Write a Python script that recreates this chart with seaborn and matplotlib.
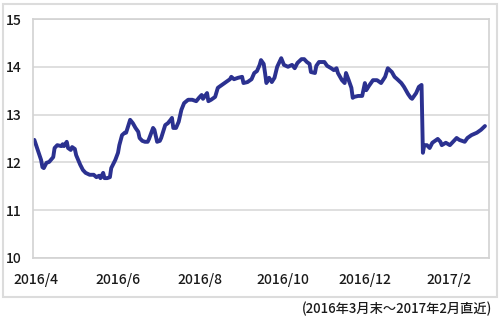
import matplotlib
matplotlib.use("Agg")
import matplotlib.pyplot as plt
from matplotlib.patches import Rectangle
import pandas as pd
import seaborn as sns

dates = [
    "2016-03-31", "2016-04-02", "2016-04-05", "2016-04-06", "2016-04-07", "2016-04-09",
    "2016-04-11", "2016-04-14", "2016-04-15", "2016-04-17", "2016-04-20", "2016-04-21",
    "2016-04-22", "2016-04-24", "2016-04-25", "2016-04-27", "2016-04-28", "2016-04-30",
    "2016-05-01", "2016-05-04", "2016-05-06", "2016-05-08", "2016-05-11", "2016-05-14",
    "2016-05-16", "2016-05-18", "2016-05-19", "2016-05-21", "2016-05-22", "2016-05-24",
    "2016-05-26", "2016-05-27", "2016-05-30", "2016-06-01", "2016-06-02", "2016-06-04",
    "2016-06-06", "2016-06-07", "2016-06-10", "2016-06-12", "2016-06-14", "2016-06-16",
    "2016-06-17", "2016-06-19", "2016-06-21", "2016-06-23", "2016-06-24", "2016-06-27",
    "2016-06-28", "2016-06-30", "2016-07-02", "2016-07-03", "2016-07-06", "2016-07-08",
    "2016-07-10", "2016-07-11", "2016-07-12", "2016-07-14", "2016-07-16", "2016-07-18",
    "2016-07-20", "2016-07-23", "2016-07-26", "2016-07-29", "2016-07-31", "2016-08-02",
    "2016-08-03", "2016-08-06", "2016-08-07", "2016-08-09", "2016-08-12", "2016-08-14",
    "2016-08-17", "2016-08-20", "2016-08-23", "2016-08-24", "2016-08-26", "2016-08-29",
    "2016-09-01", "2016-09-02", "2016-09-05", "2016-09-08", "2016-09-10", "2016-09-12",
    "2016-09-14", "2016-09-15", "2016-09-17", "2016-09-18", "2016-09-19", "2016-09-21",
    "2016-09-23", "2016-09-25", "2016-09-27", "2016-09-30", "2016-10-02", "2016-10-05",
    "2016-10-08", "2016-10-10", "2016-10-12", "2016-10-15", "2016-10-17", "2016-10-19",
    "2016-10-21", "2016-10-22", "2016-10-25", "2016-10-26", "2016-10-28", "2016-11-01",
    "2016-11-03", "2016-11-06", "2016-11-08", "2016-11-10", "2016-11-11", "2016-11-14",
    "2016-11-16", "2016-11-17", "2016-11-19", "2016-11-21", "2016-11-22", "2016-11-23",
    "2016-11-26", "2016-11-29", "2016-12-01", "2016-12-02", "2016-12-04", "2016-12-07",
    "2016-12-10", "2016-12-13", "2016-12-16", "2016-12-18", "2016-12-21", "2016-12-23",
    "2016-12-25", "2016-12-28", "2016-12-30", "2017-01-02", "2017-01-04", "2017-01-05",
    "2017-01-08", "2017-01-10", "2017-01-12", "2017-01-13", "2017-01-14", "2017-01-16",
    "2017-01-18", "2017-01-20", "2017-01-22", "2017-01-24", "2017-01-26", "2017-01-27",
    "2017-01-30", "2017-02-02", "2017-02-05", "2017-02-07", "2017-02-09", "2017-02-13",
    "2017-02-15", "2017-02-18", "2017-02-22", "2017-02-25", "2017-02-28",
]
values = [
    12.47, 12.30, 12.05, 11.90, 11.88, 11.99,
    12.01, 12.11, 12.30, 12.36, 12.34, 12.38,
    12.34, 12.43, 12.30, 12.26, 12.32, 12.28,
    12.15, 11.95, 11.84, 11.78, 11.74, 11.74,
    11.69, 11.72, 11.67, 11.78, 11.67, 11.67,
    11.69, 11.88, 12.05, 12.20, 12.36, 12.57,
    12.62, 12.62, 12.89, 12.82, 12.72, 12.64,
    12.51, 12.45, 12.43, 12.43, 12.49, 12.72,
    12.68, 12.43, 12.45, 12.51, 12.78, 12.82,
    12.89, 12.93, 12.72, 12.72, 12.85, 13.10,
    13.24, 13.31, 13.31, 13.28, 13.35, 13.41,
    13.33, 13.45, 13.28, 13.31, 13.37, 13.56,
    13.62, 13.68, 13.74, 13.79, 13.74, 13.77,
    13.79, 13.66, 13.68, 13.74, 13.87, 13.91,
    14.04, 14.14, 14.06, 13.87, 13.66, 13.77,
    13.68, 13.77, 14.00, 14.18, 14.04, 14.00,
    14.04, 13.97, 14.08, 14.16, 14.16, 14.10,
    14.06, 13.89, 13.87, 14.02, 14.10, 14.10,
    14.02, 13.97, 13.93, 13.97, 13.87, 13.72,
    13.66, 13.87, 13.72, 13.56, 13.35, 13.37,
    13.39, 13.39, 13.66, 13.51, 13.60, 13.72,
    13.72, 13.66, 13.79, 13.97, 13.89, 13.79,
    13.74, 13.66, 13.58, 13.43, 13.35, 13.33,
    13.45, 13.58, 13.62, 12.20, 12.36, 12.36,
    12.30, 12.41, 12.45, 12.49, 12.43, 12.36,
    12.41, 12.36, 12.45, 12.51, 12.47, 12.43,
    12.51, 12.57, 12.62, 12.68, 12.76,
]
tick_dates = ["2016-04-01", "2016-06-01", "2016-08-01", "2016-10-01", "2016-12-01", "2017-02-01"]
tick_labels = ["2016/4", "2016/6", "2016/8", "2016/10", "2016/12", "2017/2"]
y_ticks = [10, 11, 12, 13, 14, 15]
footnote = "(2016年3月末～2017年2月直近)"

sns.set_theme(style="white")
plt.rcParams["font.family"] = ["Noto Sans CJK JP", "DejaVu Sans"]
plt.rcParams["font.weight"] = "medium"

df = pd.DataFrame({"date": pd.to_datetime(dates), "value": values})

fig = plt.figure(figsize=(5, 3.2), dpi=100)
ax = fig.add_axes([0.066, 0.194, 0.912, 0.7466])

sns.lineplot(data=df, x="date", y="value", ax=ax, color="#2b3190", linewidth=2.8)

ax.set_ylim(10, 15)
ax.set_yticks(y_ticks)
ax.set_yticklabels([str(v) for v in y_ticks])
ax.set_xlim(pd.Timestamp("2016-03-30"), pd.Timestamp("2017-03-03"))
ax.set_xticks(pd.to_datetime(tick_dates))
ax.set_xticklabels(tick_labels)
ax.set_xlabel("")
ax.set_ylabel("")
ax.grid(axis="y", color="#dcdcdc", linewidth=1.3)
ax.grid(axis="x", visible=False)
for s in ax.spines.values():
    s.set_color("#d2d2d2")
    s.set_linewidth(1.2)
ax.tick_params(axis="both", length=0, labelsize=10, colors="#1a1a1a")
ax.tick_params(axis="y", pad=8)
ax.tick_params(axis="x", pad=11)

fig.patches.append(Rectangle((3 / 500, 1 - 297 / 320), 494 / 500, 293 / 320,
                             transform=fig.transFigure, fill=False,
                             edgecolor="#dcdcdc", linewidth=1.5))
fig.text(492 / 500, 1 - 309 / 320, footnote, ha="right", va="center",
         fontsize=9.5, color="#1a1a1a")

fig.savefig("out.png", dpi=100)
